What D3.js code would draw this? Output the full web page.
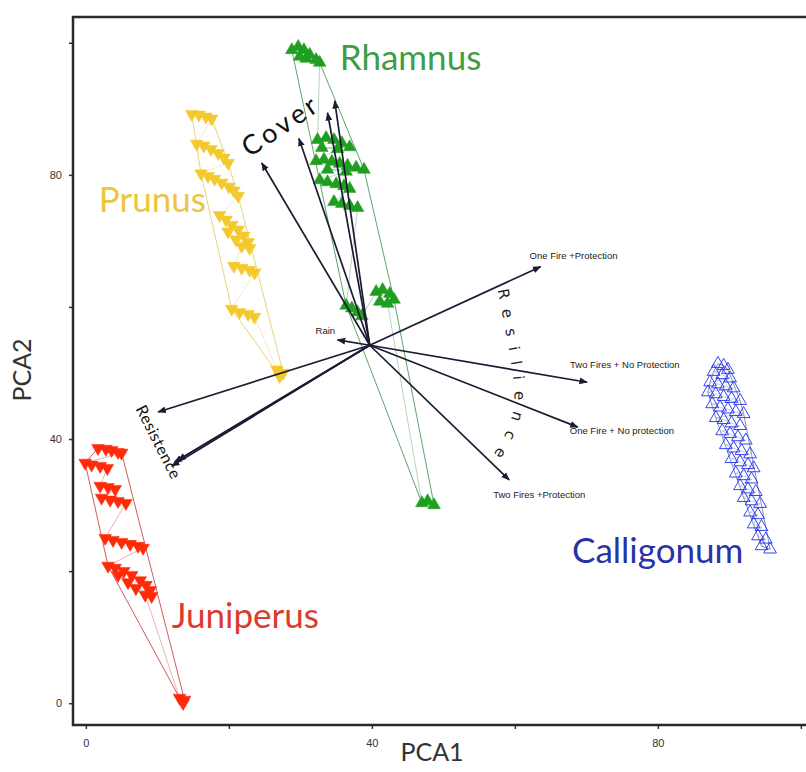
<!DOCTYPE html>
<html>
<head>
<meta charset="utf-8">
<script src="https://cdn.jsdelivr.net/npm/d3@7"></script>
<style>
  body { margin: 0; background: #fff; }
  svg { display: block; }
  .tick text { font-family: "Liberation Sans", Arial, sans-serif; font-size: 11px; fill: #333; }
  .tick line { stroke: #333; stroke-width: 1.5; }
</style>
</head>
<body>
<div id="chart"></div>
<script>
// species scores on the first two axes
const juniperus = [
  [1.7, 38.6], [2.8, 38.5], [3.6, 38.3], [4.5, 38.0], [5.0, 37.9],
  [-0.1, 36.4], [0.8, 36.1], [2.0, 35.9], [3.0, 35.6],
  [2.0, 32.9], [3.1, 32.7], [4.1, 32.4],
  [2.2, 31.1], [3.4, 30.8], [4.5, 30.6], [5.6, 30.3],
  [2.7, 25.0], [3.8, 24.7], [5.0, 24.4], [6.2, 24.1], [7.3, 23.8], [8.0, 23.5],
  [3.1, 20.8], [4.1, 20.5], [5.3, 20.0], [6.4, 19.4], [7.6, 18.6], [8.4, 17.9], [9.0, 17.1], [9.2, 16.2],
  [4.5, 19.4], [5.9, 18.3], [7.0, 17.4], [8.3, 16.4],
  [13.1, 0.8], [13.8, 0.5], [13.6, 0.0]
]
const prunus = [
  [14.8, 89.2], [15.8, 89.1], [16.8, 88.8], [17.6, 88.5],
  [15.5, 84.7], [16.5, 84.4], [17.5, 83.9], [18.5, 83.3], [19.3, 82.6], [19.9, 81.8],
  [16.1, 80.2], [17.1, 79.8], [18.0, 79.4], [19.0, 78.8], [20.0, 78.2], [20.7, 77.6], [21.3, 76.8],
  [18.7, 73.9], [19.6, 73.2], [20.4, 72.4], [21.3, 71.7], [22.1, 70.8], [22.7, 69.8], [22.9, 68.9],
  [19.9, 71.4], [21.0, 70.2], [21.8, 69.2],
  [20.7, 66.2], [21.8, 65.9], [22.9, 65.6], [23.6, 65.2],
  [20.4, 59.7], [21.5, 59.2], [22.7, 58.9], [23.6, 58.5],
  [26.7, 50.5], [27.6, 50.0], [27.1, 49.5]
]
const rhamnus = [
  [28.8, 98.9], [29.7, 99.4], [30.5, 98.9], [31.3, 98.2], [32.2, 97.4], [29.9, 97.9], [30.8, 97.6], [32.7, 97.0],
  [32.4, 85.3], [33.6, 85.6], [34.7, 85.3], [35.8, 84.8], [36.9, 84.2], [33.0, 84.1], [35.2, 83.9],
  [32.2, 82.1], [33.3, 82.3], [34.4, 82.0], [35.5, 81.7], [36.6, 81.4], [37.8, 81.1], [38.9, 80.8], [33.8, 80.8], [36.4, 80.5],
  [32.7, 79.2], [33.8, 78.9], [35.0, 78.6], [36.1, 78.3], [36.9, 77.9],
  [34.7, 75.9], [35.8, 75.6], [36.9, 75.3], [38.0, 75.0],
  [36.4, 60.2], [37.2, 59.8], [38.0, 59.2], [38.6, 58.6],
  [40.6, 62.3], [41.5, 62.6], [42.5, 62.0], [43.1, 61.1], [41.1, 60.8], [42.2, 60.5],
  [47.0, 30.3], [47.8, 30.6], [48.7, 30.0]
]
const calligonum = [
  [88.4, 51.4], [89.2, 51.1], [89.8, 50.5], [87.8, 50.2], [89.0, 49.7], [90.1, 49.2],
  [87.3, 48.6], [88.4, 48.3], [89.5, 48.0], [90.6, 47.7],
  [87.0, 47.1], [88.1, 46.8], [89.2, 46.4], [90.3, 46.1], [91.5, 45.8],
  [87.6, 45.3], [88.7, 44.8], [89.8, 44.5], [90.9, 44.1], [92.0, 43.8],
  [88.1, 43.2], [89.2, 42.9], [90.3, 42.4], [91.5, 42.0],
  [89.0, 41.2], [90.1, 40.8], [91.2, 40.3], [92.3, 39.8],
  [89.5, 39.1], [90.6, 38.6], [91.7, 38.2], [92.9, 37.7],
  [90.3, 37.0], [91.5, 36.5], [92.6, 36.1], [93.4, 35.6],
  [90.9, 34.8], [92.0, 34.4], [93.1, 33.9],
  [91.5, 32.9], [92.6, 32.4], [93.7, 32.0],
  [92.0, 31.1], [93.1, 30.6], [94.3, 30.2],
  [92.9, 28.9], [94.0, 28.5], [93.4, 27.1], [94.5, 26.7],
  [94.0, 25.3], [95.1, 24.8], [94.5, 23.8], [95.7, 23.3]
]

// variable loadings (arrow tips), all drawn from one origin
const origin = [39.7, 54.2]
const vectorNames = ['', '', '', '', 'One Fire +Protection', 'Two Fires + No Protection',
  'One Fire + No protection', 'Two Fires +Protection', 'Rain', '', '', '', '']
const vectorTips = [
  [24.6, 81.8], [29.8, 85.5], [33.8, 89.4], [34.8, 91.2],
  [63.6, 66.1], [70.1, 48.6], [68.8, 41.8], [59.2, 33.8],
  [35.2, 55.0],
  [10.1, 44.1], [12.4, 36.5], [12.0, 35.9], [12.9, 36.8]
]

const xTicks = [0, 20, 40, 60, 80, 100]
const yTicks = [0, 20, 40, 60, 80, 100]
const shownTicks = [0, 40, 80]

const width = 806
const height = 772

const x = d3.scaleLinear().domain([-1.8, 101]).range([73, 808])
const y = d3.scaleLinear().domain([-3.3, 103.9]).range([725, 17])

const svg = d3.select('#chart').append('svg')
    .attr('width', width)
    .attr('height', height)

const defs = svg.append('defs')
defs.append('marker')
    .attr('id', 'head')
    .attr('viewBox', '0 0 10 10')
    .attr('refX', 9)
    .attr('refY', 5)
    .attr('markerWidth', 5)
    .attr('markerHeight', 5)
    .attr('orient', 'auto')
    .append('path')
    .attr('d', 'M0,1L10,5L0,9Z')
    .attr('fill', '#1b1b33')

const groups = [
  {name: 'Juniperus', pts: juniperus, fill: '#ff2a0a', stroke: '#d83a30', hull: '#c84848', down: true, open: false},
  {name: 'Prunus', pts: prunus, fill: '#f3c92e', stroke: '#e6c94a', hull: '#e3cf6a', down: true, open: false},
  {name: 'Rhamnus', pts: rhamnus, fill: '#1f9e1f', stroke: '#2d962d', hull: '#4a9a5a', down: false, open: false},
  {name: 'Calligonum', pts: calligonum, fill: 'none', stroke: '#2030f0', hull: '#7c82b8', down: false, open: true},
]

const line = d3.line().x((d) => x(d[0])).y((d) => y(d[1]))

// hulls and ladder lines behind the symbols
groups.forEach((g) => {
  const hull = d3.polygonHull(g.pts.map((p) => [x(p[0]), y(p[1])]))
  svg.append('path')
      .attr('d', 'M' + hull.join('L') + 'Z')
      .attr('fill', 'none')
      .attr('stroke', g.hull)
      .attr('stroke-width', 0.9)
  svg.append('path')
      .datum(g.pts)
      .attr('d', line)
      .attr('fill', 'none')
      .attr('stroke', g.hull)
      .attr('stroke-width', 0.6)
      .attr('opacity', 0.7)
})

const tri = d3.symbol().type(d3.symbolTriangle).size(70)
groups.forEach((g) => {
  svg.append('g')
      .selectAll('path')
      .data(g.pts)
      .join('path')
      .attr('d', tri)
      .attr('transform', (d) => `translate(${x(d[0])},${y(d[1])}) rotate(${g.down ? 180 : 0})`)
      .attr('fill', g.open ? 'none' : g.fill)
      .attr('stroke', g.open ? g.stroke : g.fill)
      .attr('stroke-width', g.open ? 0.9 : 0.5)
})

// loading arrows
svg.append('g')
    .selectAll('line')
    .data(vectorTips)
    .join('line')
    .attr('x1', x(origin[0]))
    .attr('y1', y(origin[1]))
    .attr('x2', (d) => x(d[0]))
    .attr('y2', (d) => y(d[1]))
    .attr('stroke', '#1b1b33')
    .attr('stroke-width', 1.7)
    .attr('marker-end', 'url(#head)')

// arrow labels, offsets in px from the tip
const labelOffset = {
  'One Fire +Protection': [-11, -8],
  'Two Fires + No Protection': [-17, -14],
  'One Fire + No protection': [-8, 7],
  'Two Fires +Protection': [-16, 18],
  'Rain': [-22, -6],
}
svg.append('g')
    .selectAll('text')
    .data(vectorTips.map((t, i) => ({t, name: vectorNames[i]})).filter((d) => d.name))
    .join('text')
    .attr('x', (d) => x(d.t[0]) + labelOffset[d.name][0])
    .attr('y', (d) => y(d.t[1]) + labelOffset[d.name][1])
    .attr('font-family', '"Liberation Sans", Arial, sans-serif')
    .attr('font-size', 9.5)
    .attr('fill', '#222')
    .text((d) => d.name)

// grouped-variable annotations
svg.append('text')
    .attr('transform', `translate(${x(22.9)},${y(82.6)}) rotate(-34)`)
    .attr('font-family', 'Lato, "Open Sans", sans-serif')
    .attr('font-size', 27)
    .attr('letter-spacing', 3.5)
    .attr('fill', '#111')
    .text('Cover')

svg.append('text')
    .attr('transform', `translate(${x(6.9)},${y(44.6)}) rotate(63)`)
    .attr('font-family', 'Lato, "Open Sans", sans-serif')
    .attr('font-size', 16)
    .attr('letter-spacing', 0.6)
    .attr('fill', '#111')
    .text('Resistence')

const resPath = [[57.6, 62.6], [59.6, 50.5], [59.6, 43.6], [57.2, 38.0], [54.0, 33.5]]
defs.append('path')
    .attr('id', 'respath')
    .attr('d', d3.line().curve(d3.curveNatural).x((d) => x(d[0])).y((d) => y(d[1]))(resPath))
svg.append('text')
    .attr('font-family', '"DejaVu Sans", sans-serif')
    .attr('font-size', 15)
    .attr('letter-spacing', 10.5)
    .attr('fill', '#222')
    .append('textPath')
    .attr('href', '#respath')
    .text('Resilience')

// species names
const speciesLabels = [
  {name: 'Rhamnus', at: [35.5, 95.9], color: '#3f9d45'},
  {name: 'Prunus', at: [1.8, 74.4], color: '#ebc63d'},
  {name: 'Juniperus', at: [12.0, 11.4], color: '#db3b2e'},
  {name: 'Calligonum', at: [68.0, 21.2], color: '#2a33a6'},
]
svg.append('g')
    .selectAll('text')
    .data(speciesLabels)
    .join('text')
    .attr('x', (d) => x(d.at[0]))
    .attr('y', (d) => y(d.at[1]))
    .attr('font-family', 'Lato, "Open Sans", sans-serif')
    .attr('font-size', 35)
    .attr('fill', (d) => d.color)
    .text((d) => d.name)

// axes
const fmt = (d) => (shownTicks.includes(d) ? d : '')
const xAxis = svg.append('g')
    .attr('transform', `translate(0,${y.range()[0]})`)
    .call(d3.axisBottom(x).tickValues(xTicks).tickFormat(fmt).tickSize(4).tickPadding(10))
const yAxis = svg.append('g')
    .attr('transform', `translate(${x.range()[0]},0)`)
    .call(d3.axisLeft(y).tickValues(yTicks).tickFormat(fmt).tickSize(4).tickPadding(7))
xAxis.select('.domain').remove()
yAxis.select('.domain').remove()

// frame (right side runs off the picture)
svg.append('path')
    .attr('d', `M${width + 5},${y.range()[1]}H${x.range()[0]}V${y.range()[0]}H${width + 5}`)
    .attr('fill', 'none')
    .attr('stroke', '#2a2a2a')
    .attr('stroke-width', 2.5)

svg.append('text')
    .attr('x', 432)
    .attr('y', 761)
    .attr('text-anchor', 'middle')
    .attr('font-family', 'Lato, "Open Sans", sans-serif')
    .attr('font-size', 25)
    .attr('fill', '#333')
    .text('PCA1')

svg.append('text')
    .attr('transform', `translate(31,370) rotate(-90)`)
    .attr('text-anchor', 'middle')
    .attr('font-family', 'Lato, "Open Sans", sans-serif')
    .attr('font-size', 25)
    .attr('fill', '#333')
    .text('PCA2')
</script>
</body>
</html>
